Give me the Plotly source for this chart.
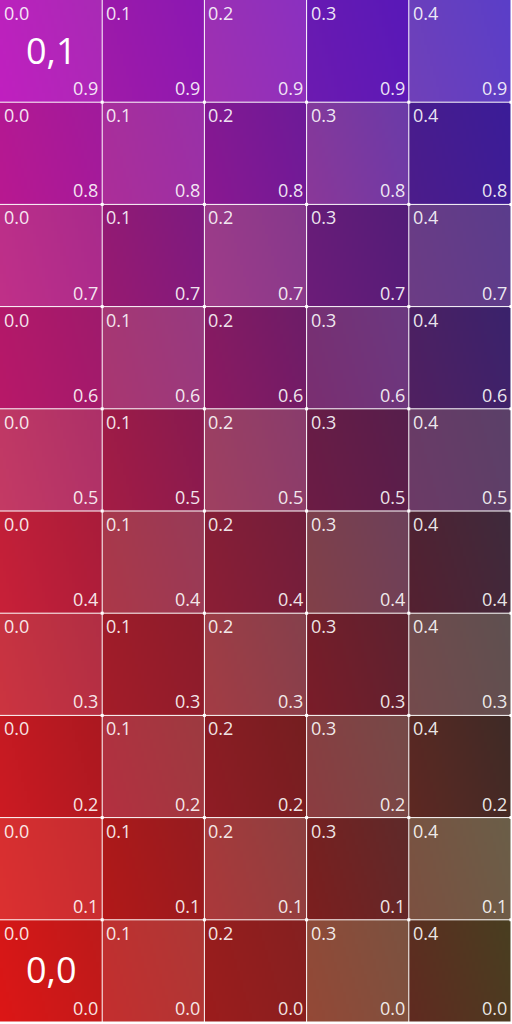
import numpy as np
import plotly.graph_objects as go

# ---- data ----
x_vals = [0.0, 0.1, 0.2, 0.3, 0.4]
y_vals = [0.0, 0.1, 0.2, 0.3, 0.4, 0.5, 0.6, 0.7, 0.8, 0.9]
x_labels = ["0.0", "0.1", "0.2", "0.3", "0.4"]
y_labels = ["0.0", "0.1", "0.2", "0.3", "0.4", "0.5", "0.6", "0.7", "0.8", "0.9"]
cell_size = 0.1

# gradient start (lower-left) colours per cell, rows in ascending y
start_colors = [
    ["#dc1616", "#c42e2e", "#9c1c1c", "#944836", "#602a20"],  # 0.0
    ["#dc3030", "#b21818", "#ac383a", "#7c1e1e", "#7c5040"],  # 0.1
    ["#cc1a22", "#b43040", "#901c24", "#8c3c40", "#5e2822"],  # 0.2
    ["#cc3440", "#a41c28", "#a43c44", "#7a1c28", "#744a4c"],  # 0.3
    ["#c82038", "#ac3848", "#8c1e34", "#824048", "#542030"],  # 0.4
    ["#c43a64", "#a41c44", "#a04060", "#6c1c44", "#6c3a66"],  # 0.5
    ["#b81868", "#aa3670", "#8c1a60", "#7a2e70", "#502060"],  # 0.6
    ["#c03088", "#981a70", "#a03c88", "#6c1c78", "#6c3c84"],  # 0.7
    ["#b81890", "#ac2e98", "#8a1890", "#8a3898", "#4c1c8a"],  # 0.8
    ["#c01fbf", "#a01aa8", "#a030b0", "#6c1ab0", "#7040b8"],  # 0.9
]
# gradient end (upper-right) colours per cell
end_colors = [
    ["#bc1a1a", "#ac3836", "#842020", "#7a5240", "#483e20"],  # 0.0
    ["#c42c30", "#941c20", "#8c4040", "#5e2a2a", "#6a5e48"],  # 0.1
    ["#aa1820", "#9c3a40", "#741e20", "#744a48", "#3e2a26"],  # 0.2
    ["#b02e44", "#8a1c2c", "#84404c", "#5c2230", "#5e5050"],  # 0.3
    ["#a81c3a", "#963a58", "#701e3c", "#6c405a", "#3e2a3c"],  # 0.4
    ["#ac3068", "#861a50", "#883c6c", "#561e4c", "#5a4068"],  # 0.5
    ["#9e1a6c", "#963a80", "#6c1c68", "#6a3880", "#3a226c"],  # 0.6
    ["#a82a8c", "#7c1a80", "#84388c", "#521c78", "#5a3c8c"],  # 0.7
    ["#a01a9c", "#9830a8", "#6c1a98", "#6a3aa8", "#3a1c98"],  # 0.8
    ["#a82ab5", "#8a18b2", "#8a30c0", "#5818b8", "#5a3ec8"],  # 0.9
]
corner_labels = ["0,0", "0,1"]
corner_label_cells = [(0, 0), (0, 9)]  # (column index, row index)


def hex_rgb(h):
    h = h.lstrip("#")
    return np.array([int(h[i:i + 2], 16) for i in (0, 2, 4)], dtype=float)


# ---- build gradient image ----
N = 34
nx, ny = len(x_vals), len(y_vals)
u = (np.arange(N) + 0.5) / N
U, V = np.meshgrid(u, u)  # V: row index -> vertical fraction (bottom = 0)
T = (0.78 * U + 0.22 * V)[..., None]
img = np.zeros((ny * N, nx * N, 3))
for j in range(ny):
    for i in range(nx):
        c0 = hex_rgb(start_colors[j][i])
        c1 = hex_rgb(end_colors[j][i])
        img[j * N:(j + 1) * N, i * N:(i + 1) * N, :] = c0 + (c1 - c0) * T
img = np.round(img).astype(np.uint8)

step = cell_size / N
fig = go.Figure()
fig.add_trace(go.Image(z=img, colormodel="rgb", x0=step / 2, dx=step,
                       y0=step / 2, dy=step, hoverinfo="skip"))

# ---- grid lines ----
x_edges = [v + cell_size for v in x_vals]
y_edges = [y_vals[0]] + [v + cell_size for v in y_vals[:-1]]
lx, ly = [], []
top = y_vals[-1] + cell_size
right = x_vals[-1] + cell_size
for xe in x_edges:
    lx += [xe, xe, None]
    ly += [y_vals[0], top, None]
for ye in y_edges:
    lx += [x_vals[0], right, None]
    ly += [ye, ye, None]
fig.add_trace(go.Scatter(x=lx, y=ly, mode="lines", line=dict(color="white", width=1),
                         hoverinfo="skip", showlegend=False))
dx_pts, dy_pts = [], []
for xe in x_edges:
    for ye in [v + cell_size for v in y_vals[:-1]]:
        dx_pts.append(xe)
        dy_pts.append(ye)
fig.add_trace(go.Scatter(x=dx_pts, y=dy_pts, mode="markers",
                         marker=dict(color="white", size=3, symbol="square"),
                         hoverinfo="skip", showlegend=False))

# ---- labels ----
lab_font = dict(family="Open Sans", size=18, color="rgba(255,255,255,0.9)")
ann = []
for j, yv in enumerate(y_vals):
    for i, xv in enumerate(x_vals):
        ann.append(dict(x=xv, y=yv + cell_size, xref="x", yref="y", text=x_labels[i],
                        showarrow=False, xanchor="left", yanchor="top",
                        xshift=2, yshift=1, font=lab_font))
        ann.append(dict(x=xv + cell_size, y=yv, xref="x", yref="y", text=y_labels[j],
                        showarrow=False, xanchor="right", yanchor="bottom",
                        xshift=-2, yshift=0, font=lab_font))
for t, (ci, rj) in zip(corner_labels, corner_label_cells):
    ann.append(dict(x=x_vals[ci] + cell_size / 2, y=y_vals[rj] + cell_size / 2,
                    xref="x", yref="y", text=t, showarrow=False,
                    xanchor="center", yanchor="middle", yshift=1,
                    font=dict(family="Open Sans", size=36, color="white")))

fig.update_layout(
    width=512, height=1024,
    margin=dict(l=0, r=1, t=0, b=2),
    paper_bgcolor="white", plot_bgcolor="white",
    xaxis=dict(range=[0, right], visible=False, fixedrange=True),
    yaxis=dict(range=[0, top], visible=False, fixedrange=True),
    annotations=ann,
    showlegend=False,
)
fig.write_html("out.html", config={"displayModeBar": False})
